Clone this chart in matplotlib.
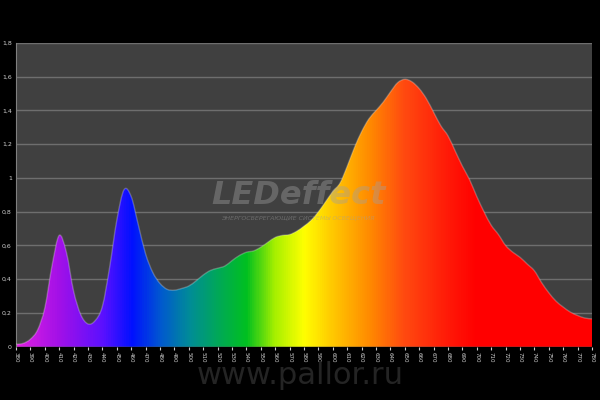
import numpy as np
import matplotlib
matplotlib.use('Agg')
import matplotlib.pyplot as plt
from matplotlib.colors import LinearSegmentedColormap
from matplotlib.ticker import FuncFormatter
from matplotlib.path import Path
from matplotlib.patches import PathPatch

# Spectrum, every 5 nm
wavelength = list(range(380, 781, 5))
intensity = [
    0.015, 0.02, 0.045, 0.10, 0.23, 0.48, 0.66, 0.56, 0.33, 0.19,
    0.135, 0.155, 0.24, 0.47, 0.75, 0.93, 0.89, 0.72, 0.55, 0.44,
    0.375, 0.34, 0.335, 0.345, 0.36, 0.39, 0.425, 0.452, 0.465, 0.478,
    0.51, 0.54, 0.56, 0.568, 0.59, 0.62, 0.648, 0.66, 0.665, 0.685,
    0.715, 0.75, 0.80, 0.86, 0.92, 0.97, 1.07, 1.18, 1.275, 1.35,
    1.40, 1.45, 1.51, 1.565, 1.585, 1.57, 1.53, 1.47, 1.39, 1.31,
    1.25, 1.16, 1.07, 0.99, 0.89, 0.80, 0.72, 0.665, 0.60, 0.56,
    0.53, 0.49, 0.45, 0.38, 0.32, 0.27, 0.235, 0.205, 0.185, 0.17,
    0.165,
]
x_ticks = list(range(380, 781, 10))
y_ticks = [0, 0.2, 0.4, 0.6, 0.8, 1.0, 1.2, 1.4, 1.6, 1.8]

# gradient stops (nm, colour) for the rainbow fill
stops = [
    (380, '#e020e0'), (410, '#a010e8'), (440, '#5a10ff'), (460, '#0010ff'),
    (480, '#0058d0'), (500, '#008c98'), (520, '#00a858'), (540, '#00c020'),
    (560, '#a8f000'), (580, '#ffff00'), (600, '#ffc800'), (625, '#ff8c00'),
    (650, '#ff4a10'), (680, '#ff1a08'), (700, '#ff0000'), (780, '#ff0000'),
]
cmap = LinearSegmentedColormap.from_list(
    'spec', [((s - 380) / 400, c) for s, c in stops])


def smooth_path(xs, ys, closed_to_zero=False):
    # Catmull-Rom through the points, drawn as cubic Bezier segments
    xs, ys = np.asarray(xs, float), np.asarray(ys, float)
    verts, codes = [(xs[0], ys[0])], [Path.MOVETO]
    n = len(xs)
    for i in range(n - 1):
        p0 = i - 1 if i > 0 else i
        p3 = i + 2 if i + 2 < n else i + 1
        c1 = (xs[i] + (xs[i + 1] - xs[p0]) / 6, ys[i] + (ys[i + 1] - ys[p0]) / 6)
        c2 = (xs[i + 1] - (xs[p3] - xs[i]) / 6, ys[i + 1] - (ys[p3] - ys[i]) / 6)
        verts += [c1, c2, (xs[i + 1], ys[i + 1])]
        codes += [Path.CURVE4] * 3
    if closed_to_zero:
        verts += [(xs[-1], 0), (xs[0], 0), (xs[0], ys[0])]
        codes += [Path.LINETO, Path.LINETO, Path.CLOSEPOLY]
    return Path(verts, codes)


fig = plt.figure(figsize=(6, 4), dpi=100, facecolor='black')
ax = fig.add_axes([16 / 600, 1 - 346.7 / 400, 576 / 600, (346.7 - 43) / 400])
ax.set_facecolor('#404040')

ax.set_xlim(380, 780)
ax.set_ylim(0, 1.8)
ax.set_yticks(y_ticks)
ax.set_xticks(x_ticks)
ax.grid(True, axis='y', color='#6e6e6e', linewidth=1)
ax.set_axisbelow(True)

area = smooth_path(wavelength, intensity, closed_to_zero=True)
edge = smooth_path(wavelength, intensity)
grad = np.linspace(0, 1, 800).reshape(1, -1)
img = ax.imshow(grad, cmap=cmap, aspect='auto', extent=[380, 780, 0, 1.8],
                origin='lower', zorder=2)
img.set_clip_path(area, transform=ax.transData)
ax.add_patch(PathPatch(edge, facecolor='none', edgecolor='white', alpha=0.25,
                       linewidth=1, zorder=3))

ax.yaxis.set_major_formatter(FuncFormatter(
    lambda v, p: ('%g' % round(v, 1)).replace('.', ',')))
ax.tick_params(axis='y', colors='#cfcfcf', labelsize=4.5, length=0, pad=3)
ax.tick_params(axis='x', colors='#cfcfcf', labelsize=4, length=2,
               labelrotation=270, pad=1.5)
for sp in ['top', 'right', 'bottom']:
    ax.spines[sp].set_visible(False)
ax.spines['left'].set_color('#808080')

# watermarks
fig.text(0.497, 0.51, 'LEDeffect', fontsize=23, fontweight='bold', style='italic',
         color='#a0a0a0', alpha=0.4, ha='center', va='center')
fig.text(0.497, 0.455, 'ЭНЕРГОСБЕРЕГАЮЩИЕ СИСТЕМЫ ОСВЕЩЕНИЯ', fontsize=4.5,
         style='italic', color='#a0a0a0', alpha=0.45, ha='center', va='center')
fig.text(0.5, 0.06, 'www.pallor.ru', fontsize=22, color='#242424',
         ha='center', va='center')

fig.savefig('out.png', dpi=100, facecolor='black')
